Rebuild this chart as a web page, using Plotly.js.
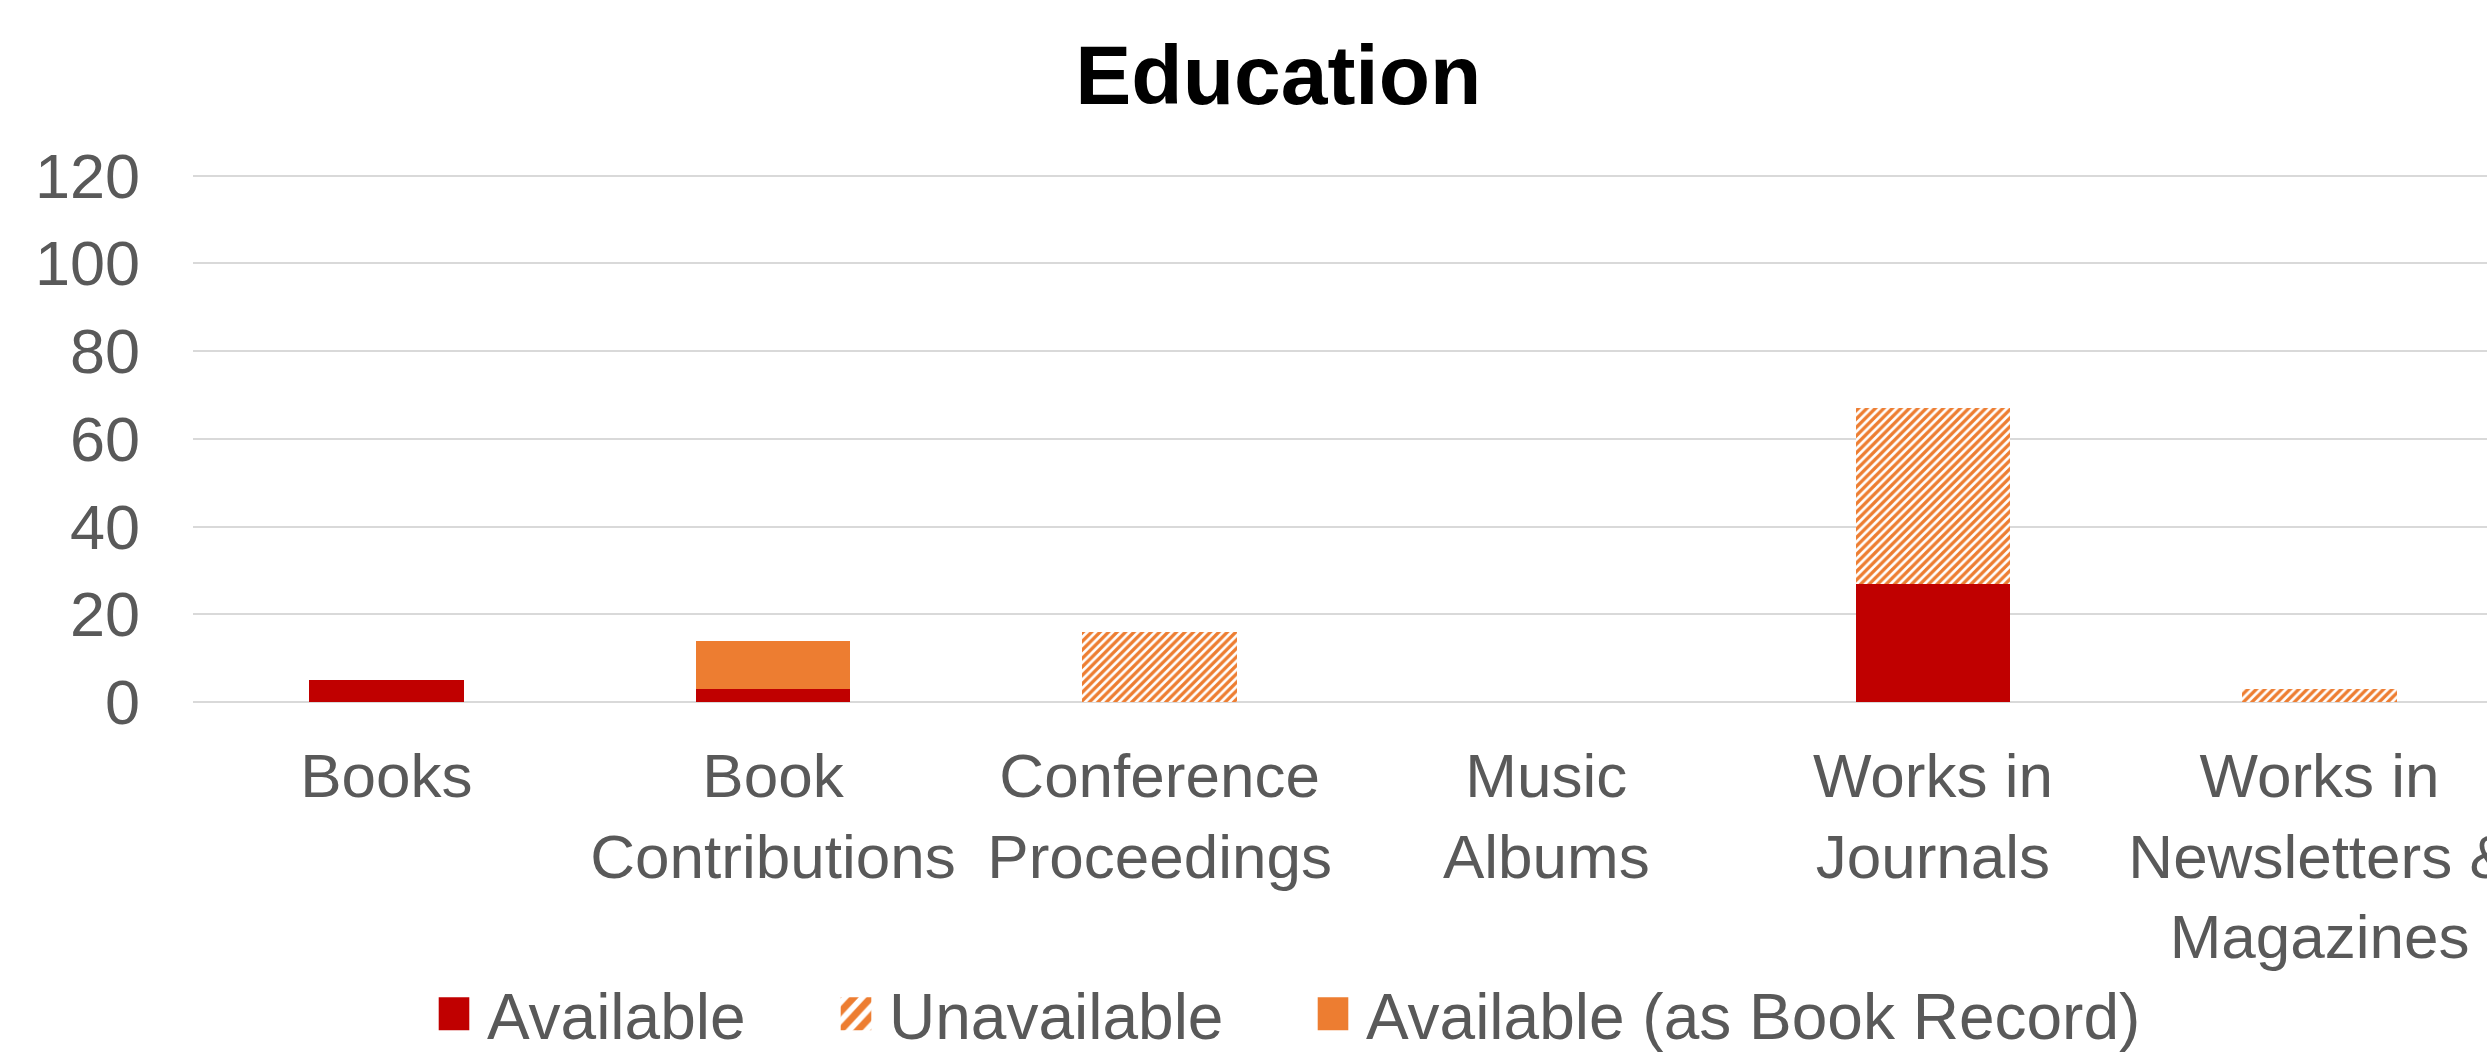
<!DOCTYPE html>
<html><head><meta charset="utf-8">
<script src="https://cdn.plot.ly/plotly-3.0.1.min.js"></script>
<style>html,body{margin:0;padding:0;overflow:hidden;background:#fff}</style>
</head><body><div id="chart" style="width:2487px;height:1053px"></div>
<script>
const categories = ["Books","Book Contributions","Conference Proceedings","Music Albums","Works in Journals","Works in Newsletters & Magazines"];
const tickLabels = ["Books","Book<br>Contributions","Conference<br>Proceedings","Music<br>Albums","Works in<br>Journals","Works in<br>Newsletters &<br>Magazines"];
const available = [5,3,0,0,27,0];
const unavailable = [0,0,16,0,40,3];
const availableBookRecord = [0,11,0,0,0,0];
const yTicks = [0,20,40,60,80,100,120];
const seriesNames = ["Available","Unavailable","Available (as Book Record)"];

const FONT = "Liberation Sans, Arial, sans-serif";
const RED = "#C00000", ORANGE = "#ED7D31", GREY = "#595959";

const traces = [
  {type:"bar", name:seriesNames[0], x:categories, y:available, legend:"legend",
   marker:{color:RED, line:{width:0}}},
  {type:"bar", name:seriesNames[1], x:categories, y:unavailable, legend:"legend2",
   marker:{color:ORANGE, line:{width:0},
     pattern:{shape:"/", fgcolor:ORANGE, bgcolor:"#FFFFFF", size:6, solidity:0.55}}},
  {type:"bar", name:seriesNames[2], x:categories, y:availableBookRecord, legend:"legend3",
   marker:{color:ORANGE, line:{width:0}}}
];

const legendBase = {orientation:"h", font:{family:FONT, size:64, color:GREY},
  xref:"container", yref:"container", xanchor:"left", yanchor:"middle",
  y:0.037, bgcolor:"rgba(0,0,0,0)", borderwidth:0, itemwidth:56};

const layout = {
  width:2487, height:1053,
  margin:{l:193, r:0, t:173.4, b:350.5, pad:0},
  paper_bgcolor:"#FFFFFF", plot_bgcolor:"#FFFFFF",
  barmode:"stack", bargap:0.6,
  font:{family:FONT, color:GREY},
  title:{text:"<b>Education</b>", font:{family:FONT, size:84, color:"#000000"},
    x:0.514, xref:"container", xanchor:"center", y:0.929, yref:"container", yanchor:"middle"},
  xaxis:{type:"category", tickvals:categories, ticktext:tickLabels, range:[-0.5, 5.433],
    showgrid:false, zeroline:false, showline:false, ticks:"",
    tickfont:{family:FONT, size:62, color:GREY}, ticklabelstandoff:32, fixedrange:true},
  yaxis:{range:[0,120.6], tickvals:yTicks, ticks:"", showline:false,
    gridcolor:"#D9D9D9", gridwidth:2, zeroline:true, zerolinecolor:"#D9D9D9", zerolinewidth:2,
    tickfont:{family:FONT, size:63, color:GREY}, ticklabelstandoff:52, fixedrange:true},
  legend:Object.assign({}, legendBase, {x:421/2487}),
  legend2:Object.assign({}, legendBase, {x:823/2487}),
  legend3:Object.assign({}, legendBase, {x:1300/2487}),
  showlegend:true
};

Plotly.newPlot("chart", traces, layout, {staticPlot:true, displayModeBar:false}).then(function(){
  document.querySelectorAll(".legendpoints path").forEach(function(p){
    const t = p.getAttribute("transform") || "";
    p.setAttribute("transform", t + " scale(2.55,2.75)");
  });
});
</script>
</body></html>
